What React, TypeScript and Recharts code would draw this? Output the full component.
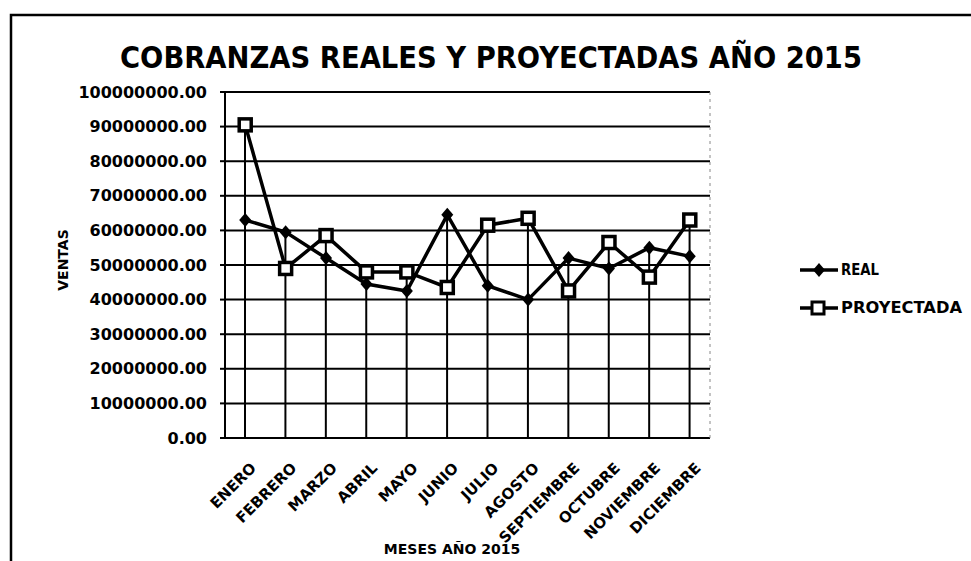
import { ComposedChart, Line, Bar, XAxis, YAxis, CartesianGrid } from "recharts";

const MESES = [
  "ENERO",
  "FEBRERO",
  "MARZO",
  "ABRIL",
  "MAYO",
  "JUNIO",
  "JULIO",
  "AGOSTO",
  "SEPTIEMBRE",
  "OCTUBRE",
  "NOVIEMBRE",
  "DICIEMBRE",
];

// cobranzas reales (soles)
const REAL = [
  63000000, 59500000, 52000000, 44500000, 42500000, 64500000,
  44000000, 40000000, 52000000, 49000000, 55000000, 52500000,
];

// cobranzas proyectadas
const PROYECTADA = [
  90500000, 49000000, 58500000, 48000000, 48000000, 43500000,
  61500000, 63500000, 42500000, 56500000, 46500000, 63000000,
];

const Y_TICKS = [
  0, 10000000, 20000000, 30000000, 40000000, 50000000,
  60000000, 70000000, 80000000, 90000000, 100000000,
];

const FONT = "'DejaVu Sans', Verdana, sans-serif";

const data = MESES.map((mes, i) => ({
  mes,
  real: REAL[i],
  proyectada: PROYECTADA[i],
  // drop line reaches the higher of the two points
  caida: Math.max(REAL[i], PROYECTADA[i]),
}));

const Diamond = (props: any) => {
  const { cx, cy } = props;
  if (cx == null || cy == null) return null;
  return (
    <path
      d={`M${cx},${cy - 7}L${cx + 6},${cy}L${cx},${cy + 7}L${cx - 6},${cy}Z`}
      fill="#000"
    />
  );
};

const Square = (props: any) => {
  const { cx, cy } = props;
  if (cx == null || cy == null) return null;
  return (
    <rect
      x={cx - 6}
      y={cy - 6}
      width={12}
      height={12}
      fill="#fff"
      stroke="#000"
      strokeWidth={3.5}
    />
  );
};

const MonthTick = (props: any) => {
  const { x, y, payload } = props;
  return (
    <g transform={`translate(${x + 4},${y + 15})`}>
      <text
        transform="rotate(-45)"
        textAnchor="end"
        dominantBaseline="hanging"
        fontFamily={FONT}
        fontWeight="bold"
        fontSize={15}
        fill="#000"
      >
        {payload.value}
      </text>
    </g>
  );
};

export default function App() {
  return (
    <div
      style={{
        position: "absolute",
        left: 0,
        top: 0,
        width: 971,
        height: 561,
        background: "#fff",
        overflow: "hidden",
      }}
    >
      <ComposedChart
        width={971}
        height={561}
        data={data}
        margin={{ top: 92, right: 261, left: 10, bottom: 0 }}
      >
        <CartesianGrid vertical={false} stroke="#000" strokeWidth={2} />
        <XAxis
          dataKey="mes"
          height={123}
          interval={0}
          tick={<MonthTick />}
          tickLine={false}
          axisLine={{ stroke: "#000", strokeWidth: 2 }}
        />
        <YAxis
          width={215}
          domain={[0, 100000000]}
          ticks={Y_TICKS}
          interval={0}
          tickFormatter={(v: number) => v.toFixed(2)}
          tick={{ fill: "#000", fontSize: 16, fontWeight: "bold", fontFamily: FONT }}
          tickSize={5}
          tickMargin={13}
          tickLine={{ stroke: "#000", strokeWidth: 2 }}
          axisLine={{ stroke: "#000", strokeWidth: 2 }}
        />
        <Bar dataKey="caida" barSize={2} fill="#000" isAnimationActive={false} />
        <Line
          dataKey="proyectada"
          stroke="#000"
          strokeWidth={3.5}
          dot={<Square />}
          activeDot={false}
          isAnimationActive={false}
        />
        <Line
          dataKey="real"
          stroke="#000"
          strokeWidth={3.5}
          dot={<Diamond />}
          activeDot={false}
          isAnimationActive={false}
        />
      </ComposedChart>

      <svg
        width={971}
        height={561}
        style={{ position: "absolute", left: 0, top: 0, pointerEvents: "none" }}
      >
        {/* outer frame */}
        <path d="M11,561 L11,15 L971,15" fill="none" stroke="#000" strokeWidth={2.5} />
        <line x1={710} y1={92} x2={710} y2={438} stroke="#888" strokeWidth={1} strokeDasharray="3 4" />

        <text
          x={491}
          y={68}
          textAnchor="middle"
          fontFamily={FONT}
          fontWeight="bold"
          fontSize={31}
          textLength={742}
          lengthAdjust="spacingAndGlyphs"
        >
          COBRANZAS REALES Y PROYECTADAS AÑO 2015
        </text>

        <text
          transform="translate(68,260) rotate(-90)"
          textAnchor="middle"
          fontFamily={FONT}
          fontWeight="bold"
          fontSize={14}
        >
          VENTAS
        </text>

        <text
          x={452}
          y={554}
          textAnchor="middle"
          fontFamily={FONT}
          fontWeight="bold"
          fontSize={14}
        >
          MESES AÑO 2015
        </text>

        {/* legend */}
        <line x1={800} y1={270} x2={838} y2={270} stroke="#000" strokeWidth={3.5} />
        <path d="M819,263 L825,270 L819,277 L813,270 Z" fill="#000" />
        <text
          x={841}
          y={275}
          fontFamily={FONT}
          fontWeight="bold"
          fontSize={15}
          textLength={38}
          lengthAdjust="spacingAndGlyphs"
        >
          REAL
        </text>
        <line x1={800} y1={308} x2={838} y2={308} stroke="#000" strokeWidth={3.5} />
        <rect x={812} y={302} width={12} height={12} fill="#fff" stroke="#000" strokeWidth={3} />
        <text
          x={841}
          y={313}
          fontFamily={FONT}
          fontWeight="bold"
          fontSize={15}
          textLength={121}
          lengthAdjust="spacingAndGlyphs"
        >
          PROYECTADA
        </text>
      </svg>
    </div>
  );
}
